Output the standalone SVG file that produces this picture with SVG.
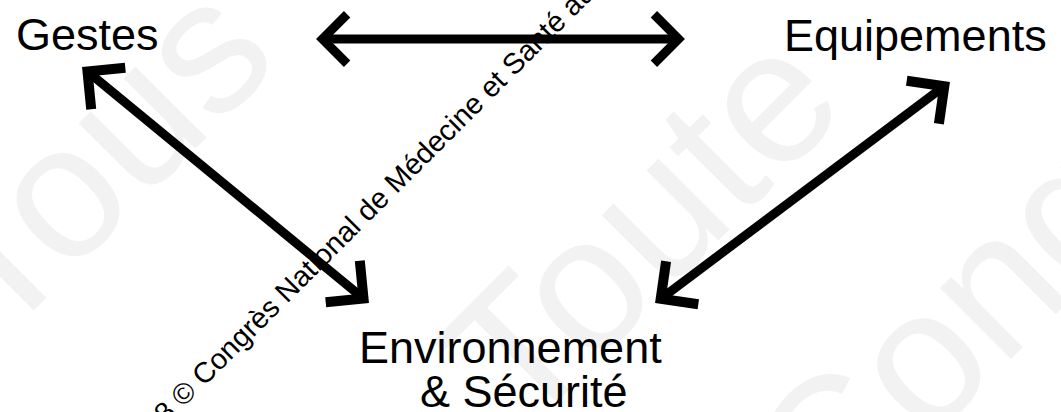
<svg xmlns="http://www.w3.org/2000/svg" width="1061" height="412" viewBox="0 0 1061 412">
  <style>
    .wm { font-family: "Liberation Sans", Arial, sans-serif; font-size: 190px; fill: #f2f2f2; }
    .wm2 { font-family: "Liberation Sans", Arial, sans-serif; font-size: 29px; fill: #000; }
    .label { font-family: "Liberation Sans", Arial, sans-serif; font-size: 45px; fill: #000; }
    .line { fill: none; stroke: #000; stroke-width: 9; stroke-linecap: butt; }
    .head { fill: none; stroke: #000; stroke-width: 10; stroke-linejoin: miter; stroke-linecap: butt; }
    .head9 { fill: none; stroke: #000; stroke-width: 9; stroke-linejoin: miter; stroke-linecap: butt; }
  </style>
  <rect width="1061" height="412" fill="#fff"/>
  <g id="watermark-large">
    <text class="wm" x="-1" y="345" transform="rotate(-45 -1 345)">Tous</text>
    <text class="wm" x="522" y="437" transform="rotate(-45 522 437)">Toute</text>
    <text class="wm" x="830" y="540" transform="rotate(-45 830 540)">Cong</text>
  </g>
  <g id="connectors">
    <g id="edge-gestes-equipements">
      <line class="line" x1="322" y1="39" x2="679" y2="39"/>
      <polyline class="head9" points="347.1,14.3 322.4,39 347.1,63.7"/>
      <polyline class="head9" points="653.9,14.3 678.6,39 653.9,63.7"/>
    </g>
    <g id="edge-gestes-environnement">
      <line class="line" x1="87.5" y1="71.5" x2="363.5" y2="298.5"/>
      <polyline class="head" points="125.3,67.8 87.5,71.5 91.2,109.3"/>
      <polyline class="head" points="325.7,302.2 363.5,298.5 359.8,260.7"/>
    </g>
    <g id="edge-equipements-environnement">
      <line class="line" x1="944.3" y1="86.2" x2="660.7" y2="298.8"/>
      <polyline class="head" points="906.7,80.8 944.3,86.2 938.9,123.8"/>
      <polyline class="head" points="698.3,304.2 660.7,298.8 666.1,261.2"/>
    </g>
  </g>
  <g id="node-gestes">
    <text class="label" x="16" y="50">Gestes</text>
  </g>
  <g id="node-equipements">
    <text class="label" x="784" y="51">Equipements</text>
  </g>
  <g id="node-environnement">
    <text class="label" x="359" y="363">Environnement</text>
    <text class="label" x="420" y="407">&amp; Sécurité</text>
  </g>
  <g id="watermark-small">
    <text class="wm2" x="166" y="425" transform="rotate(-45 166 425)">8 © Congrès National de Médecine et Santé au</text>
  </g>
</svg>
